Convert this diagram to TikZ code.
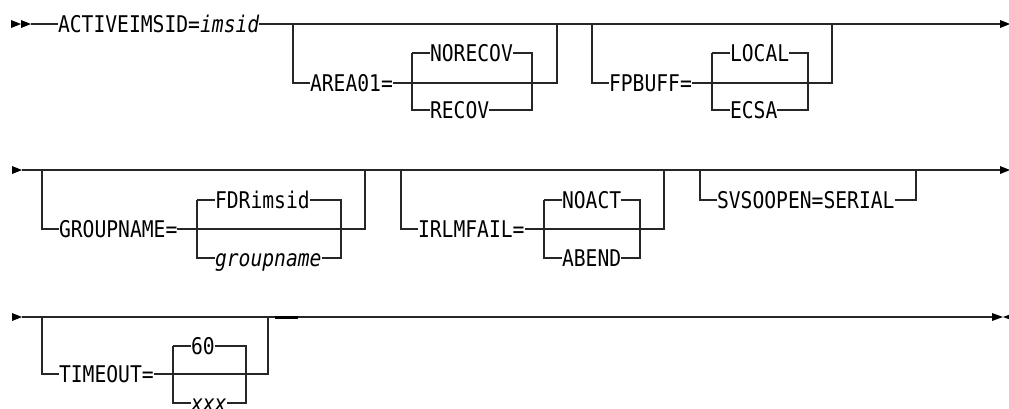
\documentclass[tikz,border=0pt]{standalone}
\usepackage{fontspec}
\newfontfamily\dfont{DejaVu Sans Mono}[FakeStretch=0.855]
\tikzset{
  lbl/.style={font=\dfont\fontsize{23pt}{26pt}\selectfont, inner sep=0pt, outer sep=0pt,
    text height=16.6pt, text depth=0pt, anchor=west, text=black},
  ln/.style={draw=black!85, line width=1.2pt},
  tip/.style={fill=black, draw=none},
}
\newcommand\branch[6]{%
  \coordinate (#1l) at (#2,#4);
  \coordinate (#1r) at (#3,#4);
  \node[lbl] (#1) at (#2+17,#5) {#6};
  \draw[ln] (#1l) |- (#1.west) (#1.east) -| (#1r);
}
\newcommand\twochoice[7]{%
  \coordinate (#1tl) at (#2,#4);
  \coordinate (#1tr) at (#3,#4);
  \node[lbl] (#1t) at (#2+18,#4) {#6};
  \node[lbl] (#1b) at (#2+18,#5) {#7};
  \draw[ln] (#1tl) -- (#1t.west) (#1t.east) -- (#1tr) |- (#1b.east) (#1b.west) -| (#1tl);
}
\begin{document}
\begin{tikzpicture}[x=1pt,y=-1pt]
\useasboundingbox (0,0) rectangle (1009,408);
% ---------- row 1 ----------
\fill[tip] (11,20) -- (21,24) -- (11,28) -- cycle;
\fill[tip] (21,20) -- (31,24) -- (21,28) -- cycle;
\coordinate (r1s) at (31,24);
\coordinate (r1e) at (1000,24);
\node[lbl] (act) at (58,24) {ACTIVEIMSID=\textit{imsid}};
\draw[ln] (r1s) -- (act.west) (act.east) -- (r1e);
\fill[tip] (1000,20) -- (1010,24) -- (1000,28) -- cycle;
\branch{area}{293}{557}{24}{83}{AREA01=}
\twochoice{ar}{412}{532}{53}{110}{NORECOV}{RECOV}
\branch{fpb}{592}{832}{24}{83}{FPBUFF=}
\twochoice{fp}{712}{808}{53}{110}{LOCAL}{ECSA}
% ---------- row 2 ----------
\fill[tip] (12,166) -- (22,170) -- (12,174) -- cycle;
\coordinate (r2s) at (22,170);
\coordinate (r2e) at (1000,170);
\draw[ln] (r2s) -- (r2e);
\fill[tip] (1000,166) -- (1010,170) -- (1000,174) -- cycle;
\branch{grp}{42}{365}{170}{229}{GROUPNAME=}
\twochoice{gr}{197}{341}{200}{258}{FDRimsid}{\textit{groupname}}
\branch{irl}{401}{664}{170}{229}{IRLMFAIL=}
\twochoice{ir}{544}{640}{200}{258}{NOACT}{ABEND}
\branch{svs}{700}{916}{170}{200}{SVSOOPEN=SERIAL}
% ---------- row 3 ----------
\fill[tip] (12,313) -- (22,317) -- (12,321) -- cycle;
\coordinate (r3s) at (22,317);
\coordinate (r3e) at (992,317);
\draw[ln] (r3s) -- (r3e);
\branch{tmo}{42}{268}{317}{374}{TIMEOUT=}
\twochoice{tm}{173}{246}{346}{403}{60}{\textit{xxx}}
\coordinate (th1) at (275,317);
\coordinate (th2) at (298,317);
\draw[draw=black, line width=3pt] (th1) -- (th2);
\fill[tip] (992,313) -- (1003,317) -- (992,321) -- cycle;
\fill[tip] (1014,313) -- (1003,317) -- (1014,321) -- cycle;
\end{tikzpicture}
\end{document}
